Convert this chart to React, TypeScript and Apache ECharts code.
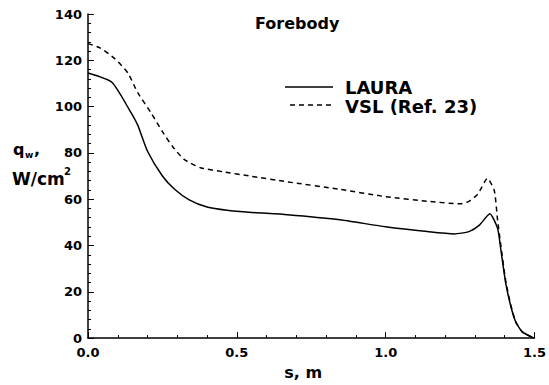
import React, { useEffect, useRef } from "react";
import * as echarts from "echarts";

const lauraS = [0, 0.08, 0.14, 0.167, 0.2, 0.25, 0.29, 0.34, 0.4, 0.467, 0.55, 0.67, 0.84, 1.0, 1.14, 1.23, 1.28, 1.315, 1.35, 1.376, 1.387, 1.403, 1.42, 1.437, 1.459, 1.49, 1.5];
const lauraQ = [114.5, 110.5, 98.4, 92, 80.7, 70, 64.4, 59.7, 56.6, 55.2, 54.3, 53.3, 51.2, 48.1, 46, 45, 46, 48.8, 53.7, 47.4, 38.2, 24, 14, 7, 2.7, 0.5, 0];

const vslS = [0, 0.04, 0.09, 0.134, 0.167, 0.21, 0.25, 0.284, 0.323, 0.378, 0.456, 0.544, 0.67, 0.84, 1.0, 1.15, 1.25, 1.28, 1.31, 1.342, 1.365, 1.376, 1.387, 1.403, 1.42, 1.437, 1.459, 1.49, 1.5];
const vslQ = [127.2, 125.4, 120.7, 114.5, 106, 97.7, 89.2, 82.8, 77.2, 73.6, 71.8, 70, 67.5, 64.4, 61.1, 59, 58, 59.1, 62.3, 69, 63.7, 51, 40, 25, 14.5, 7, 2.7, 0.5, 0];

const seriesNames = ["LAURA", "VSL (Ref. 23)"];
const titleText = "Forebody";
const xAxisName = "s, m";

const FONT = "DejaVu Sans";

export default function App() {
  const ref = useRef<HTMLDivElement>(null);
  useEffect(() => {
    if (!ref.current) return;
    const chart = echarts.init(ref.current, null, { renderer: "svg" });
    const axisCommon = {
      axisLine: { show: true, lineStyle: { color: "#000", width: 1.5 } },
      axisTick: { show: true, inside: true, length: 6, lineStyle: { color: "#000", width: 1 } },
      minorTick: { show: true, splitNumber: 5, length: 3, lineStyle: { color: "#000", width: 1 } },
      splitLine: { show: false },
      minorSplitLine: { show: false },
    };
    const txt = (text: string, left: number, top: number, size: number) => ({
      type: "text",
      left,
      top,
      style: { text, fontFamily: FONT, fontWeight: "bold", fontSize: size, lineHeight: size, fill: "#000" },
    });
    chart.setOption({
      animation: false,
      backgroundColor: "#fff",
      title: {
        text: titleText,
        left: 250,
        top: 10,
        textStyle: { fontFamily: FONT, fontWeight: "bold", fontSize: 16, color: "#000" },
      },
      grid: { left: 88, right: 10, top: 14, bottom: 42, containLabel: false },
      xAxis: {
        type: "value",
        min: 0,
        max: 1.5,
        interval: 0.5,
        name: xAxisName,
        nameLocation: "middle",
        nameGap: 23,
        nameTextStyle: { fontFamily: FONT, fontWeight: "bold", fontSize: 16, color: "#000", padding: [0, 16, 0, 0] },
        axisLabel: {
          margin: 8,
          fontFamily: FONT,
          fontWeight: "bold",
          fontSize: 13,
          color: "#000",
          formatter: (v: number) => v.toFixed(1),
        },
        ...axisCommon,
      },
      yAxis: {
        type: "value",
        min: 0,
        max: 140,
        interval: 20,
        axisLabel: { margin: 6, fontFamily: FONT, fontWeight: "bold", fontSize: 13, color: "#000" },
        ...axisCommon,
      },
      graphic: [
        txt("q", 13, 141, 16),
        txt("w", 25, 150, 9),
        txt(",", 34, 141, 16),
        txt("W/cm", 12, 170, 17),
        txt("2", 64, 166, 10),
        {
          type: "line",
          shape: { x1: 285, y1: 87, x2: 333, y2: 87 },
          style: { stroke: "#000", lineWidth: 1.5 },
        },
        {
          type: "line",
          shape: { x1: 290, y1: 105, x2: 333, y2: 105 },
          style: { stroke: "#000", lineWidth: 1.5, lineDash: [5, 4] },
        },
        txt(seriesNames[0], 345, 78, 18),
        txt(seriesNames[1], 345, 97, 18),
      ],
      series: [
        {
          name: seriesNames[0],
          type: "line",
          data: lauraS.map((s, i) => [s, lauraQ[i]]),
          showSymbol: false,
          symbol: "none",
          smooth: 0.2,
          lineStyle: { color: "#000", width: 1.5, type: "solid" },
        },
        {
          name: seriesNames[1],
          type: "line",
          data: vslS.map((s, i) => [s, vslQ[i]]),
          showSymbol: false,
          symbol: "none",
          smooth: 0.2,
          lineStyle: { color: "#000", width: 1.5, type: [5, 4] },
        },
      ],
    });
    return () => chart.dispose();
  }, []);
  return <div ref={ref} style={{ width: 549, height: 385, position: "absolute", left: 0, top: 0 }} />;
}
